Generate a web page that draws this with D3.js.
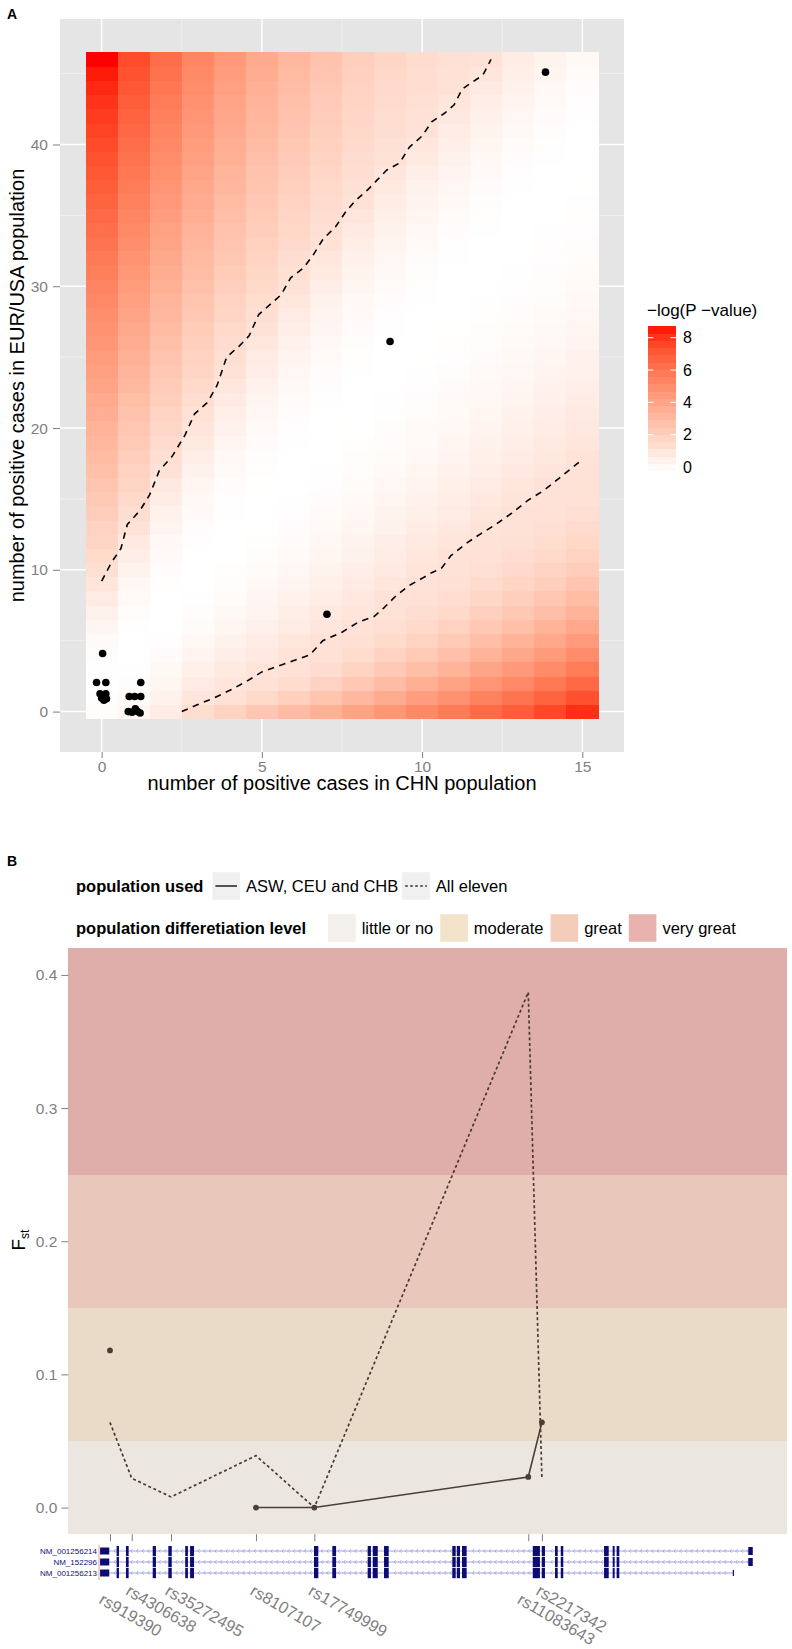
<!DOCTYPE html>
<html><head><meta charset="utf-8">
<script src="https://cdn.jsdelivr.net/npm/d3@7"></script>
<style>
body{margin:0;background:#fff;}
text{font-family:"Liberation Sans",Arial,Helvetica,sans-serif;}
</style></head><body>
<svg id="chart" width="792" height="1649"></svg>
<script>
// ================= DATA: panel A =================
const chnCounts = [0,1,2,3,4,5,6,7,8,9,10,11,12,13,14,15];
const eurCounts = [0,1,2,3,4,5,6,7,8,9,10,11,12,13,14,15,16,17,18,19,20,21,22,23,24,25,26,27,28,29,30,31,32,33,34,35,36,37,38,39,40,41,42,43,44,45,46];
// -log(P-value), one column per CHN count, values for EUR count 0..46
const logP_chn0 = [0.10,0.03,0,0.03,0.10,0.23,0.40,0.63,0.90,1.23,1.46,1.65,1.85,2.04,2.24,2.44,2.63,2.83,3.02,3.22,3.41,3.61,3.80,4.00,4.20,4.39,4.59,4.78,4.98,5.17,5.37,5.57,5.76,5.96,6.15,6.35,6.54,6.74,6.94,7.13,7.33,7.52,7.72,7.91,8.11,8.30,8.50];
const logP_chn1 = [0.36,0.22,0.11,0.04,0,0,0.04,0.11,0.22,0.36,0.54,0.76,1.01,1.30,1.48,1.66,1.85,2.03,2.21,2.39,2.57,2.75,2.94,3.12,3.30,3.48,3.66,3.85,4.03,4.21,4.39,4.57,4.75,4.94,5.12,5.30,5.48,5.66,5.85,6.03,6.21,6.39,6.57,6.75,6.94,7.12,7.30];
const logP_chn2 = [0.88,0.65,0.45,0.29,0.16,0.07,0.02,0,0.01,0.05,0.12,0.21,0.33,0.47,0.64,0.83,1.05,1.30,1.47,1.64,1.81,1.98,2.15,2.31,2.48,2.65,2.82,2.99,3.16,3.33,3.50,3.67,3.84,4.00,4.17,4.34,4.51,4.68,4.85,5.02,5.19,5.36,5.52,5.69,5.86,6.03,6.20];
const logP_chn3 = [1.50,1.16,0.90,0.68,0.49,0.33,0.20,0.10,0.04,0,0,0.02,0.07,0.13,0.22,0.33,0.45,0.60,0.78,0.97,1.18,1.38,1.54,1.69,1.85,2.01,2.16,2.32,2.48,2.63,2.79,2.95,3.11,3.26,3.42,3.58,3.73,3.89,4.05,4.20,4.36,4.52,4.67,4.83,4.99,5.14,5.30];
const logP_chn4 = [2.00,1.36,1.18,0.96,0.75,0.58,0.42,0.29,0.19,0.11,0.05,0.01,0,0.01,0.04,0.08,0.14,0.23,0.33,0.44,0.58,0.73,0.90,1.09,1.30,1.45,1.59,1.74,1.88,2.03,2.17,2.32,2.46,2.61,2.75,2.90,3.04,3.19,3.33,3.48,3.62,3.77,3.91,4.06,4.20,4.35,4.50];
const logP_chn5 = [2.50,1.69,1.34,1.21,1.01,0.83,0.66,0.52,0.39,0.28,0.19,0.11,0.06,0.02,0,0,0.02,0.05,0.10,0.17,0.25,0.35,0.47,0.60,0.75,0.92,1.10,1.30,1.43,1.56,1.69,1.83,1.96,2.09,2.22,2.35,2.48,2.62,2.75,2.88,3.01,3.14,3.27,3.41,3.54,3.67,3.80];
const logP_chn6 = [3.00,2.14,1.60,1.35,1.26,1.07,0.90,0.75,0.60,0.48,0.37,0.27,0.19,0.12,0.07,0.03,0.01,0,0.01,0.03,0.07,0.12,0.19,0.28,0.37,0.49,0.62,0.76,0.92,1.10,1.30,1.42,1.54,1.66,1.78,1.89,2.01,2.13,2.25,2.37,2.49,2.61,2.73,2.85,2.96,3.08,3.20];
const logP_chn7 = [3.50,2.62,1.98,1.57,1.35,1.30,1.13,0.97,0.82,0.68,0.56,0.45,0.35,0.26,0.19,0.13,0.08,0.04,0.01,0,0,0.02,0.04,0.09,0.14,0.22,0.30,0.40,0.52,0.64,0.79,0.94,1.11,1.30,1.41,1.52,1.62,1.73,1.84,1.95,2.05,2.16,2.27,2.38,2.48,2.59,2.70];
const logP_chn8 = [4.10,3.19,2.48,1.95,1.59,1.39,1.30,1.20,1.05,0.90,0.77,0.65,0.53,0.43,0.34,0.26,0.19,0.13,0.09,0.05,0.02,0.01,0,0.01,0.03,0.06,0.11,0.17,0.24,0.33,0.43,0.54,0.66,0.80,0.95,1.12,1.30,1.39,1.48,1.57,1.66,1.75,1.84,1.93,2.02,2.11,2.20];
const logP_chn9 = [4.60,3.73,3.00,2.42,1.97,1.65,1.44,1.33,1.30,1.15,1.00,0.87,0.75,0.63,0.53,0.43,0.35,0.27,0.20,0.14,0.10,0.06,0.03,0.01,0,0,0.01,0.04,0.08,0.13,0.20,0.28,0.37,0.47,0.59,0.71,0.86,1.01,1.18,1.33,1.40,1.48,1.55,1.63,1.70,1.77,1.85];
const logP_chn10 = [5.20,4.32,3.57,2.93,2.41,2.00,1.69,1.48,1.36,1.30,1.23,1.09,0.96,0.83,0.72,0.61,0.51,0.42,0.34,0.27,0.21,0.15,0.11,0.07,0.04,0.02,0,0,0.01,0.03,0.06,0.11,0.17,0.24,0.32,0.42,0.53,0.65,0.79,0.94,1.11,1.30,1.36,1.42,1.48,1.54,1.60];
const logP_chn11 = [5.70,4.83,4.07,3.42,2.86,2.39,2.02,1.73,1.52,1.39,1.32,1.30,1.16,1.03,0.91,0.80,0.69,0.59,0.50,0.42,0.34,0.27,0.21,0.16,0.11,0.08,0.05,0.02,0.01,0,0,0.01,0.04,0.08,0.13,0.20,0.28,0.37,0.48,0.60,0.73,0.87,1.03,1.20,1.32,1.36,1.40];
const logP_chn12 = [6.30,5.45,4.68,4.01,3.41,2.90,2.47,2.11,1.82,1.61,1.45,1.35,1.31,1.27,1.14,1.02,0.90,0.79,0.69,0.60,0.51,0.43,0.35,0.29,0.23,0.17,0.13,0.09,0.06,0.03,0.01,0,0,0.01,0.03,0.06,0.11,0.17,0.24,0.33,0.43,0.54,0.66,0.80,0.95,1.12,1.30];
const logP_chn13 = [6.80,5.96,5.20,4.51,3.90,3.36,2.89,2.49,2.15,1.88,1.66,1.50,1.39,1.33,1.30,1.22,1.10,0.99,0.88,0.77,0.68,0.59,0.50,0.43,0.35,0.29,0.23,0.18,0.14,0.10,0.07,0.04,0.02,0.01,0,0,0.01,0.04,0.08,0.13,0.20,0.28,0.37,0.48,0.60,0.73,0.87];
const logP_chn14 = [7.40,6.56,5.79,5.08,4.45,3.87,3.37,2.92,2.54,2.21,1.94,1.72,1.55,1.43,1.35,1.31,1.30,1.18,1.06,0.96,0.85,0.75,0.66,0.58,0.50,0.42,0.36,0.29,0.24,0.19,0.14,0.11,0.07,0.05,0.03,0.01,0,0,0.01,0.03,0.06,0.11,0.17,0.24,0.33,0.43,0.54];
const logP_chn15 = [8.00,7.16,6.38,5.66,5.00,4.41,3.87,3.39,2.96,2.59,2.27,2.00,1.78,1.61,1.47,1.38,1.33,1.30,1.25,1.14,1.03,0.93,0.83,0.74,0.65,0.57,0.49,0.42,0.36,0.30,0.24,0.20,0.15,0.11,0.08,0.05,0.03,0.02,0,0,0,0.01,0.04,0.08,0.13,0.20,0.28];
const logPGrid = [logP_chn0,logP_chn1,logP_chn2,logP_chn3,logP_chn4,logP_chn5,logP_chn6,logP_chn7,logP_chn8,logP_chn9,logP_chn10,logP_chn11,logP_chn12,logP_chn13,logP_chn14,logP_chn15];

// significance contours (dashed)
const upperContourX = [0,0.3,0.6,0.8,1.2,1.5,1.8,2.2,2.6,2.9,3.3,3.6,3.9,4.3,4.6,4.9,5.3,5.6,5.9,6.3,6.6,6.9,7.3,7.6,7.9,8.3,8.6,8.9,9.3,9.6,10.0,10.3,10.7,11.0,11.25,11.5,11.9,12.15];
const upperContourY = [9.2,10.5,11.5,13.2,14.2,15.3,17,18,19.5,21,21.8,23,25,25.8,26.5,28,28.8,29.4,30.6,31.3,32.2,33.3,34.2,35.2,36.0,36.8,37.5,38.2,38.7,39.8,40.6,41.6,42.2,42.8,43.9,44.3,44.9,46];
const lowerContourX = [2.5,3.0,3.5,4.0,4.5,5.0,5.5,6.0,6.5,6.9,7.5,8.0,8.5,8.8,9.2,9.6,10.0,10.3,10.6,10.9,11.4,11.8,12.3,12.8,13.3,13.8,14.3,14.9];
const lowerContourY = [0,0.5,0.95,1.5,2.1,2.8,3.2,3.6,4.0,5.0,5.6,6.3,6.7,7.3,8.2,8.9,9.4,9.8,10.1,11.0,11.9,12.5,13.2,14.0,14.9,15.6,16.5,17.6];

// observed variants (jittered positions as drawn)
const obsCHN = [0.03,-0.16,0.13,-0.05,0.13,0.0,0.15,0.07,0.86,1.03,1.22,1.22,0.83,0.95,1.05,1.12,1.20,7.03,9.0,13.85];
const obsEUR = [4.1,2.05,2.05,1.25,1.25,0.95,0.9,0.8,1.06,1.06,1.06,2.05,0.0,-0.05,0.2,0.0,-0.1,6.87,26.1,45.1];

const xTicksA = [0,5,10,15];
const yTicksA = [0,10,20,30,40];
const xMinorA = [2.5,7.5,12.5];
const yMinorA = [5,15,25,35,45];
const legendBreaksA = [0,2,4,6,8];

// ================= DATA: panel B =================
const snpLabels = ["\nrs919390","rs4306638","rs35272495","rs8107107","rs17749999","\nrs11083643","rs2217342"];
const snpPosKb = [2.32,3.53,5.72,10.45,13.70,25.61,26.37];
const fstThreePops = [0.118,null,null,0.000,0.000,0.023,0.064];
const fstElevenPops = [0.064,0.022,0.008,0.039,0.000,0.387,0.022];
const fstTicks = [0.0,0.1,0.2,0.3,0.4];
const levelNames = ["little or no","moderate","great","very great"];
const levelFrom = [-Infinity,0.05,0.15,0.25];
const levelTo = [0.05,0.15,0.25,Infinity];
const levelFill = ["#ebe6e0","#eadbc8","#e9c7ba","#e0aeaa"];
const levelKeyFill = ["#f3efea","#f3e3cb","#f3ccba","#e8b3ae"];
const popNames = ["ASW, CEU and CHB","All eleven"];

const transcripts = ["NM_001256214","NM_152296","NM_001256213"];
const txStartKb = [1.77,1.77,1.77];
const txEndKb = [38.11,38.11,37.03];
const utr5Start = [1.77], utr5End = [2.28];
const exonStartKb = [2.69,3.21,4.70,5.57,6.51,6.78,13.68,14.70,16.67,16.95,17.58,21.38,21.63,21.92,25.86,26.36,27.10,27.42,29.83,30.31,30.53];
const exonEndKb   = [2.82,3.36,4.88,5.76,6.66,7.00,13.92,14.91,16.85,17.23,17.84,21.57,21.81,22.18,26.26,26.54,27.25,27.56,30.09,30.42,30.68];
const lastExonStartKb = [37.86,37.86,null];
const lastExonEndKb = [38.11,38.11,null];

// ================= DRAWING =================
const svg = d3.select("#chart");
const grey50 = "#7f7f7f";

// ---------- Panel A ----------
const gA = svg.append("g");
const xA = d3.scaleLinear().domain([-1.3, 16.3]).range([60, 624]);
const yA = d3.scaleLinear().domain([-2.85, 48.85]).range([752, 19]);
const maxLogP = d3.max(logPGrid.flat());
const fillA = d3.scaleLinear().domain([0, maxLogP]).range(["#ffffff", "#ff0000"]).interpolate(d3.interpolateLab);

gA.append("rect").attr("x", xA.range()[0]).attr("y", yA.range()[1])
  .attr("width", xA.range()[1]-xA.range()[0]).attr("height", yA.range()[0]-yA.range()[1]).attr("fill", "#e5e5e5");
gA.selectAll(".mnx").data(xMinorA).join("line").attr("x1", d=>xA(d)).attr("x2", d=>xA(d)).attr("y1", 19).attr("y2", 752).attr("stroke", "#f2f2f2").attr("stroke-width", 0.8);
gA.selectAll(".mny").data(yMinorA).join("line").attr("y1", d=>yA(d)).attr("y2", d=>yA(d)).attr("x1", 60).attr("x2", 624).attr("stroke", "#f2f2f2").attr("stroke-width", 0.8);
gA.selectAll(".mjx").data(xTicksA).join("line").attr("x1", d=>xA(d)).attr("x2", d=>xA(d)).attr("y1", 19).attr("y2", 752).attr("stroke", "#fff").attr("stroke-width", 1.5);
gA.selectAll(".mjy").data(yTicksA).join("line").attr("y1", d=>yA(d)).attr("y2", d=>yA(d)).attr("x1", 60).attr("x2", 624).attr("stroke", "#fff").attr("stroke-width", 1.5);

const tiles = [];
chnCounts.forEach((c, i) => eurCounts.forEach((e, j) => tiles.push({c, e, v: logPGrid[i][j]})));
gA.append("g").attr("shape-rendering", "crispEdges").selectAll("rect").data(tiles).join("rect")
  .attr("x", d => xA(d.c - 0.5)).attr("y", d => yA(d.e + 0.5))
  .attr("width", d => xA(d.c + 0.5) - xA(d.c - 0.5) + 0.4)
  .attr("height", d => yA(d.e - 0.5) - yA(d.e + 0.5) + 0.4)
  .attr("fill", d => fillA(d.v));

const lineA = d3.line().x(d => xA(d[0])).y(d => yA(d[1]));
[[upperContourX, upperContourY], [lowerContourX, lowerContourY]].forEach(([xs, ys]) => {
  gA.append("path").datum(d3.zip(xs, ys)).attr("d", lineA).attr("fill", "none")
    .attr("stroke", "#000").attr("stroke-width", 1.6).attr("stroke-dasharray", "6.5,5.5");
});
gA.selectAll(".pt").data(d3.zip(obsCHN, obsEUR)).join("circle")
  .attr("cx", d => xA(d[0])).attr("cy", d => yA(d[1])).attr("r", 3.8).attr("fill", "#000");

function styleAxis(g, fs) {
  g.select(".domain").remove();
  g.selectAll(".tick line").attr("stroke", grey50).attr("stroke-width", 1);
  g.selectAll(".tick text").attr("fill", grey50).attr("font-size", fs).attr("font-family", '"Liberation Sans", Arial, sans-serif');
}
const axAx = gA.append("g").attr("transform", "translate(0,752)")
  .call(d3.axisBottom(xA).tickValues(xTicksA).tickSize(6).tickPadding(3).tickFormat(d3.format("d")));
styleAxis(axAx, 15.5);
const axAy = gA.append("g").attr("transform", "translate(60,0)")
  .call(d3.axisLeft(yA).tickValues(yTicksA).tickSize(7).tickPadding(5).tickFormat(d3.format("d")));
styleAxis(axAy, 15.5);

gA.append("text").attr("x", 342).attr("y", 790).attr("text-anchor", "middle").attr("font-size", 20).attr("fill", "#000")
  .text("number of positive cases in CHN population");
gA.append("text").attr("transform", "translate(24,385.5) rotate(-90)").attr("text-anchor", "middle").attr("font-size", 20).attr("fill", "#000")
  .text("number of positive cases in EUR/USA population");
svg.append("text").attr("x", 7).attr("y", 18.5).attr("font-size", 14).attr("font-weight", "bold").text("A");

// colour bar legend
const cbX = 647.7, cbW = 28.3, cbTop = 326, cbH = 144.6, nbin = 20;
gA.append("text").attr("x", 647).attr("y", 316).attr("font-size", 17).text("\u2212log(P \u2212value)");
const bins = d3.range(nbin);
gA.append("g").attr("shape-rendering", "crispEdges").selectAll("rect").data(bins).join("rect")
  .attr("x", cbX).attr("width", cbW)
  .attr("y", k => cbTop + cbH - (k + 1) * cbH / nbin).attr("height", cbH / nbin + 0.5)
  .attr("fill", k => fillA((k + 0.5) / nbin * maxLogP));
const cbPos = d3.scaleLinear().domain([0, maxLogP]).range([cbTop + cbH - cbH / 40, cbTop + cbH / 40]);
legendBreaksA.forEach(b => {
  gA.append("line").attr("x1", cbX).attr("x2", cbX + cbW / 5).attr("y1", cbPos(b)).attr("y2", cbPos(b)).attr("stroke", "#fff").attr("stroke-width", 1);
  gA.append("line").attr("x1", cbX + cbW * 4 / 5).attr("x2", cbX + cbW).attr("y1", cbPos(b)).attr("y2", cbPos(b)).attr("stroke", "#fff").attr("stroke-width", 1);
  gA.append("text").attr("x", 683).attr("y", cbPos(b)).attr("dy", "0.36em").attr("font-size", 16).text(b);
});

// ---------- Panel B ----------
const gB = svg.append("g");
svg.append("text").attr("x", 7).attr("y", 866).attr("font-size", 14).attr("font-weight", "bold").text("B");
const xB = d3.scaleLinear().domain([0, 40]).range([68.3, 786.7]);
const yB = d3.scaleLinear().domain([-0.02, 0.42]).range([1534.2, 948.3]);
const [yLo, yHi] = yB.domain();

gB.append("g").attr("shape-rendering", "crispEdges").selectAll("rect").data(levelNames).join("rect")
  .attr("x", xB.range()[0]).attr("width", xB.range()[1] - xB.range()[0])
  .attr("y", (d, i) => yB(Math.min(levelTo[i], yHi)))
  .attr("height", (d, i) => yB(Math.max(levelFrom[i], yLo)) - yB(Math.min(levelTo[i], yHi)))
  .attr("fill", (d, i) => levelFill[i]);

const ptsThree = snpPosKb.map((p, i) => ({p, v: fstThreePops[i]}));
const ptsEleven = snpPosKb.map((p, i) => ({p, v: fstElevenPops[i]}));
const lineB = d3.line().defined(d => d.v != null).x(d => xB(d.p)).y(d => yB(d.v));
gB.append("path").datum(ptsEleven).attr("d", lineB).attr("fill", "none").attr("stroke", "#4a3a34")
  .attr("stroke-width", 1.7).attr("stroke-dasharray", "3,2.6");
gB.append("path").datum(ptsThree).attr("d", lineB).attr("fill", "none").attr("stroke", "#4a3f38").attr("stroke-width", 1.6);
gB.selectAll(".ptb").data(ptsThree.filter(d => d.v != null)).join("circle")
  .attr("cx", d => xB(d.p)).attr("cy", d => yB(d.v)).attr("r", 2.9).attr("fill", "#4a3f38");

const axBy = gB.append("g").attr("transform", `translate(${xB.range()[0]},0)`)
  .call(d3.axisLeft(yB).tickValues(fstTicks).tickSize(7).tickPadding(4).tickFormat(d3.format(".1f")));
styleAxis(axBy, 15.5);
const axBx = gB.append("g").attr("transform", `translate(0,${yB.range()[0]})`)
  .call(d3.axisBottom(xB).tickValues(snpPosKb).tickSize(7).tickFormat(""));
styleAxis(axBx, 15.5);

const fst = gB.append("text").attr("transform", "translate(25,1240) rotate(-90)").attr("text-anchor", "middle").attr("font-size", 19);
fst.append("tspan").text("F");
fst.append("tspan").attr("font-size", 12).attr("dy", 4).text("st");

// SNP labels (rotated)
snpLabels.forEach((lab, i) => {
  const lines = lab.split("\n");
  const li = lines.length - 1;
  const x0 = xB(snpPosKb[i]) - 7 - li * 5;
  const y0 = 1594 + li * 8.7;
  gB.append("text").attr("transform", `translate(${x0},${y0}) rotate(30)`).attr("font-size", 16.5).attr("fill", grey50)
    .text(lines[li]);
});

// gene track
const rowY = [1551, 1562, 1573];
const gT = gB.append("g");
gT.append("line").attr("x1", 99).attr("x2", 99).attr("y1", 1545).attr("y2", 1580).attr("stroke", "#ee9a9a").attr("stroke-width", 1);
const inExon = px => exonStartKb.some((s, k) => px >= xB(s) - 1.5 && px <= xB(exonEndKb[k]) + 1.5);
transcripts.forEach((tx, r) => {
  const y = rowY[r];
  const xs = xB(txStartKb[r]), xe = xB(txEndKb[r]);
  gT.append("line").attr("x1", xs).attr("x2", xe).attr("y1", y).attr("y2", y).attr("stroke", "#a3a3e3").attr("stroke-width", 1);
  let chev = "";
  for (let px = xs + 14; px < xe - 5; px += 5.6) {
    if (inExon(px)) continue;
    chev += `M${px + 1.6},${y - 1.8}L${px},${y}L${px + 1.6},${y + 1.8}`;
  }
  gT.append("path").attr("d", chev).attr("fill", "none").attr("stroke", "#9c9cde").attr("stroke-width", 0.8);
  gT.append("rect").attr("x", xB(utr5Start[0])).attr("width", xB(utr5End[0]) - xB(utr5Start[0])).attr("y", y - 3.5).attr("height", 7).attr("fill", "#0c0c72");
  exonStartKb.forEach((s, k) => {
    gT.append("rect").attr("x", xB(s)).attr("width", Math.max(1.5, xB(exonEndKb[k]) - xB(s))).attr("y", y - 5).attr("height", 10.2).attr("fill", "#0c0c72");
  });
  if (lastExonStartKb[r] != null) {
    gT.append("rect").attr("x", xB(lastExonStartKb[r])).attr("width", xB(lastExonEndKb[r]) - xB(lastExonStartKb[r])).attr("y", y - 4).attr("height", 8).attr("fill", "#0c0c72");
  } else {
    gT.append("line").attr("x1", xe).attr("x2", xe).attr("y1", y - 3).attr("y2", y + 3).attr("stroke", "#0c0c72").attr("stroke-width", 1.2);
  }
  gT.append("text").attr("x", 97).attr("y", y).attr("dy", "0.35em").attr("text-anchor", "end").attr("font-size", 8).attr("fill", "#10107a").text(tx);
});

// legend B
function legendRow(yc, title, items, titleGap, itemGap) {
  let x = 76;
  const t = gB.append("text").attr("x", x).attr("y", yc).attr("dy", "0.35em").attr("font-weight", "bold").attr("font-size", 16.5).text(title);
  x += t.node().getComputedTextLength() + titleGap;
  items.forEach(it => {
    it.key(x, yc - 13.8, 27.6);
    x += 27.6 + 6;
    const tt = gB.append("text").attr("x", x).attr("y", yc).attr("dy", "0.35em").attr("font-size", 16.5).text(it.label);
    x += tt.node().getComputedTextLength() + itemGap;
  });
}
legendRow(886, "population used", popNames.map((n, i) => ({
  label: n,
  key: (x, y, s) => {
    gB.append("rect").attr("x", x).attr("y", y).attr("width", s).attr("height", s).attr("fill", "#f0f0f0");
    gB.append("line").attr("x1", x + 3).attr("x2", x + s - 3).attr("y1", y + s / 2).attr("y2", y + s / 2)
      .attr("stroke", "#2b2b2b").attr("stroke-width", 1.6).attr("stroke-dasharray", i === 0 ? null : "2.5,2.5");
  }
})), 9, 4);
legendRow(928, "population differetiation level", levelNames.map((n, i) => ({
  label: n,
  key: (x, y, s) => gB.append("rect").attr("x", x).attr("y", y).attr("width", s).attr("height", s).attr("fill", levelKeyFill[i])
})), 22, 7);
</script>
</body></html>
